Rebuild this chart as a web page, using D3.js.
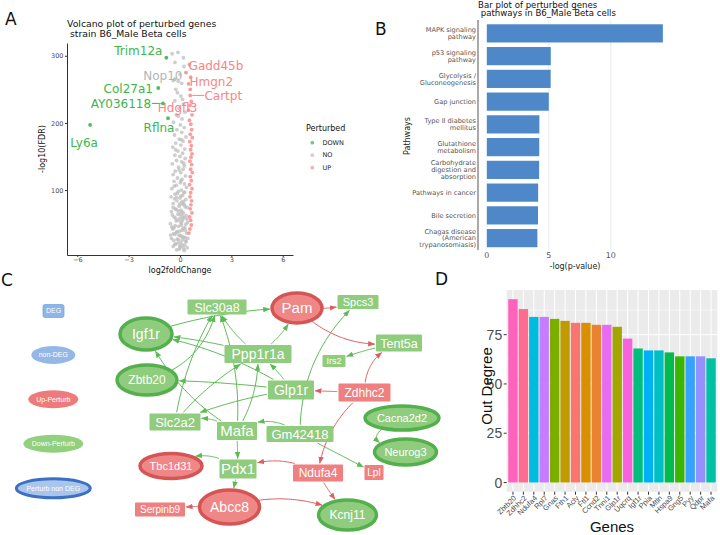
<!DOCTYPE html>
<html><head><meta charset="utf-8">
<script src="https://cdn.jsdelivr.net/npm/d3@7"></script>
<style>body{margin:0;background:#fff}svg{display:block}</style>
</head><body>
<svg id="c" width="720" height="535"></svg>
<script>
// ---------- Panel A: volcano data ----------
const volcanoTitle = ["Volcano plot of perturbed genes", " strain B6_Male Beta cells"];
const labelGenes = ["Trim12a","Nop10","Gadd45b","Hmgn2","Col27a1","Cartpt","AY036118","Hdgfl3","Rflna","Ly6a"];
const labelLfc   = [-0.8,-0.3,0.35,0.6,-1.27,0.6,-1.0,0.5,-0.7,-5.25];
const labelFdr   = [297,265,275,250,252,241,229,219,207,197];
const labelGroup = ["DOWN","NO","UP","UP","DOWN","UP","DOWN","UP","DOWN","DOWN"];
const grayLfc = [-0.46,-0.12,0.23,-0.4,-0.1,0.1,-0.15,0.05,-0.3,0.2,-0.05,0.3,-0.22,0.12,-0.38,0.02,0.25,-0.18,0.1,-0.32,0.35,-0.05,0.18,-0.25,0.05,-0.42,0.28,-0.12,0.15,-0.3,0.0,0.3,-0.2,0.1,-0.45,0.25,-0.08,0.18,-0.28,0.05,-0.4,0.32,-0.15,0.12,-0.35,0.02,0.26,-0.22,0.38,-0.48,0.08,-0.1,0.22,-0.3,0.15,-0.52,0.0,0.34,-0.18,0.1,-0.4,0.26,-0.05,0.42,-0.28,0.05,-0.5,0.2,-0.12,0.36,-0.35,0.0,0.16,-0.22,0.44,-0.56,0.08,-0.08,0.28,-0.42,0.12,-0.18,0.38,-0.3,0.02,0.22,-0.5,-0.1,0.32,0.05,-0.25,0.15,-0.4,0.42,-0.05,0.25,-0.15,0.05,-0.32,0.2,-0.02,0.3,-0.22,0.12,-0.45,0.24,-0.1,0.06,-0.28,0.18,-0.02,-0.38,0.1,-0.16,0.36,-0.3,0.0,0.2,-0.2,0.3,-0.48,0.4,-0.55,0.46,-0.36,0.28,-0.12,0.14,-0.06,0.34,-0.26,0.02,-0.4,0.16,-0.2,0.28,-0.34,0.06,-0.06,0.22,-0.26,0.08,-0.1,0.15,-0.25,0.0,-0.3,0.2,-0.1,0.1,-0.2,0.3,0.0,-0.35,0.15];
const grayFdr = [303,305,284,263,262,259,245,240,233,228,222,216,212,206,201,197,193,190,186,182,179,176,173,170,167,164,161,158,155,152,150,147,144,142,139,136,134,131,128,126,123,121,118,116,113,111,109,107,104,102,100,98,96,94,92,90,88,86,84,82,80,78,76,74,72,70,68,66,64,62,60,58,56,54,52,50,48,46,44,42,40,38,36,34,32,30,28,26,24,22,20,18,16,14,12,10,95,91,87,83,79,75,71,67,63,59,55,51,47,43,39,35,31,27,23,19,15,13,11,40,45,57,33,28,25,18,21,26,33,49,58,64,74,79,89,97,106,114,130,140,160,175,210,235,250,272,290,297,69,53,37,29,17,44,61,81,24,15,36];
const upLfc = [0.55,0.62,0.5,0.66,0.58,0.7,0.55,0.63,0.68,0.6,0.72,0.57,0.66,0.62,0.7,0.64,0.58,0.68,0.62,0.72,0.6,0.66,0.56,0.7,0.62,0.58,0.68,0.64,0.6,0.7,0.56,0.62,0.66,0.58,0.52];
const upFdr = [287,268,258,232,226,212,204,198,190,183,178,172,166,160,154,149,143,138,131,126,120,114,108,102,96,90,84,78,72,66,60,55,48,42,36];
const perturbLevels = ["DOWN","NO","UP"];
const xTicksA = [-6,-3,0,3,6];
const yTicksA = [100,200,300];

// ---------- Panel B: pathway bar data ----------
const barTitle = ["Bar plot of perturbed genes", " pathways in B6_Male Beta cells"];
const pathways = ["MAPK signaling\npathway","p53 signaling\npathway","Glycolysis /\nGluconeogenesis","Gap junction","Type II diabetes\nmellitus","Glutathione\nmetabolism","Carbohydrate\ndigestion and\nabsorption","Pathways in cancer","Bile secretion","Chagas disease\n(American\ntrypanosomiasis)"];
const pathwayScore = [14.2,5.16,5.15,5.0,4.24,4.23,4.22,4.14,4.13,4.08];
const xTicksB = [0,5,10];

// ---------- Panel C: network data ----------
const nodeNames = ["Slc30a8","Pam","Igf1r","Zbtb20","Ppp1r1a","Glp1r","Spcs3","Tent5a","Irs2","Zdhhc2","Slc2a2","Mafa","Gm42418","Tbc1d31","Pdx1","Abcc8","Serpinb9","Ndufa4","Lpl","Cacna2d2","Neurog3","Kcnj11"];
const nodeTypes = ["DEG-down","Perturb-up","Perturb-down","Perturb-down","DEG-down","DEG-down","DEG-down","DEG-down","DEG-down","DEG-up","DEG-down","DEG-down","DEG-down","Perturb-up","DEG-down","Perturb-up","DEG-up","DEG-up","DEG-up","Perturb-down","Perturb-down","Perturb-down"];
const edgeSource = ["Igf1r","Ppp1r1a","Zbtb20","Ppp1r1a","Mafa","Ppp1r1a","Mafa","Glp1r","Glp1r","Mafa","Gm42418","Tent5a","Glp1r","Mafa","Slc2a2","Gm42418","Gm42418","Mafa","Pdx1","Pdx1","Cacna2d2","Pam","Pam","Zdhhc2","Zdhhc2","Zdhhc2","Ndufa4","Ndufa4","Abcc8","Abcc8","Slc2a2","Glp1r"];
const edgeTarget = ["Pam","Pam","Slc30a8","Slc30a8","Slc30a8","Igf1r","Igf1r","Zbtb20","Ppp1r1a","Ppp1r1a","Spcs3","Irs2","Slc2a2","Slc2a2","Slc30a8","Mafa","Lpl","Pdx1","Tbc1d31","Abcc8","Neurog3","Spcs3","Tent5a","Glp1r","Tent5a","Ndufa4","Kcnj11","Pdx1","Serpinb9","Kcnj11","Ppp1r1a","Igf1r"];
const legendLabels = ["DEG","non-DEG","Up-Perturb","Down-Perturb","Perturb non DEG"];

// ---------- Panel D: out degree data ----------
const genesD = ["Zbtb20","Zdhhc2","Ndufa4","Rpl7","Gnas","Fth1","Acly","Ftl1","Ccnd2","Tnni1","Glp1r","Uqcrq","Igf1r","Ppia","Mtln","Hspa9","Gng5","Pyy","Qdpr","Mafa"];
const outDegree = [93,88,84,84,83,82,81,81,80,80,79,73,68,67,67,66,64,64,64,63];
const colorsD = ["#FF62BC","#FF6C91","#00BAE0","#C77CFF","#7CAE00","#C09B00","#F8766D","#D89000","#EA8331","#E76BF3","#A3A500","#FA62DB","#00BF7D","#00B0F6","#00BFC4","#00BB4E","#39B600","#35A2FF","#9590FF","#00C1A3"];
const yTicksD = [0,25,50,75];

// =====================================================
const svg = d3.select("#c");
const FD = "DejaVu Sans, sans-serif";
const FL = "Liberation Sans, Arial, sans-serif";

function letter(t,x,y){svg.append("text").attr("x",x).attr("y",y).attr("font-family",FD).attr("font-size",17).attr("fill","#111").text(t);}
letter("A",5,25); letter("B",375,35); letter("C",1,286); letter("D",435,285);

// ---------------- Panel A ----------------
(function(){
  const g = svg.append("g");
  const x = d3.scaleLinear([-6.6,6.6],[67,293]);
  const y = d3.scaleLinear([3.3,319],[255,43]);
  const tt = g.append("text").attr("font-family",FD).attr("font-size",9.3).attr("fill","#111");
  volcanoTitle.forEach((s,i)=>tt.append("tspan").attr("x",67).attr("y",27.3+i*9.5).attr("xml:space","preserve").text(s));
  const ax = g.append("g").attr("transform","translate(0,255)").call(d3.axisBottom(x).tickValues(xTicksA).tickSize(2).tickPadding(0.5).tickSizeOuter(0));
  const ay = g.append("g").attr("transform","translate(67,0)").call(d3.axisLeft(y).tickValues(yTicksA).tickSize(2).tickPadding(1.5).tickSizeOuter(0));
  [ax,ay].forEach(a=>{a.select(".domain").attr("stroke","#333");a.selectAll(".tick line").attr("stroke","#333");a.selectAll("text").attr("font-family",FD).attr("font-size",6.5).attr("fill","#4d4d4d");});
  g.append("text").attr("x",180).attr("y",272.5).attr("text-anchor","middle").attr("font-family",FD).attr("font-size",8).attr("fill","#111").text("log2foldChange");
  g.append("text").attr("transform","translate(45,149) rotate(-90)").attr("text-anchor","middle").attr("font-family",FD).attr("font-size",8).attr("fill","#111").text("-log10(FDR)");
  const col = {DOWN:"#3db54a",NO:"#bdbdbd",UP:"#f78d8d"};
  const lcol = {DOWN:"#3db54a",NO:"#b5b5b5",UP:"#f98585"};
  g.selectAll("c.g").data(d3.zip(grayLfc,grayFdr)).join("circle").attr("cx",d=>x(d[0])).attr("cy",d=>y(d[1])).attr("r",1.9).attr("fill",col.NO).attr("opacity",0.75);
  g.selectAll("c.u").data(d3.zip(upLfc,upFdr)).join("circle").attr("cx",d=>x(d[0])).attr("cy",d=>y(d[1])).attr("r",1.9).attr("fill",col.UP).attr("opacity",0.85);
  const pts = labelGenes.map((n,i)=>({n,lfc:labelLfc[i],fdr:labelFdr[i],grp:labelGroup[i]}));
  g.selectAll("c.l").data(pts).join("circle").attr("cx",d=>x(d.lfc)).attr("cy",d=>y(d.fdr)).attr("r",1.9).attr("fill",d=>col[d.grp]).attr("opacity",0.9);
  // label nudges (layout only)
  const nudge = {Trim12a:[-28,-7],Nop10:[-12,-3],Gadd45b:[30,-7],Hmgn2:[21,-8],Col27a1:[-30,1],Cartpt:[33,0],AY036118:[-42,0],Hdgfl3:[-11,-2],Rflna:[-9,10],Ly6a:[-6,18]};
  pts.forEach(d=>{
    const px=x(d.lfc), py=y(d.fdr), o=nudge[d.n];
    if(d.n==="Cartpt") g.append("line").attr("x1",px+2).attr("y1",py).attr("x2",px+14).attr("y2",py).attr("stroke",lcol.UP);
    if(d.n==="AY036118") g.append("line").attr("x1",px-11).attr("y1",py).attr("x2",px-2).attr("y2",py).attr("stroke",lcol.DOWN);
    g.append("text").attr("x",px+o[0]).attr("y",py+o[1]).attr("dy","0.35em").attr("text-anchor","middle").attr("font-family",FD).attr("font-size",12).attr("fill",lcol[d.grp]).text(d.n);
  });
  g.append("text").attr("x",306).attr("y",131).attr("font-family",FD).attr("font-size",8).attr("fill","#111").text("Perturbed");
  perturbLevels.forEach((lv,i)=>{
    g.append("circle").attr("cx",312.3).attr("cy",142.7+i*12.5).attr("r",1.9).attr("fill",col[lv]).attr("opacity",0.7);
    g.append("text").attr("x",322.5).attr("y",142.7+i*12.5).attr("dy","0.35em").attr("font-family",FD).attr("font-size",6.5).attr("fill","#222").text(lv);
  });
})();

// ---------------- Panel B ----------------
(function(){
  const g = svg.append("g");
  const x = d3.scaleLinear([-0.71,15.0],[478,672.8]);
  const y = d3.scaleBand(pathways,[22,249.5]).paddingInner(0.2).paddingOuter(0.1);
  const tt = g.append("text").attr("font-family",FD).attr("font-size",8.6).attr("fill","#111");
  barTitle.forEach((s,i)=>tt.append("tspan").attr("x",478).attr("y",7.5+i*8.6).attr("xml:space","preserve").text(s));
  g.selectAll("line.gr").data(xTicksB.slice(1)).join("line").attr("x1",d=>x(d)).attr("x2",d=>x(d)).attr("y1",20).attr("y2",250).attr("stroke","#e6ebf3").attr("stroke-width",1);
  g.selectAll("rect").data(pathways).join("rect").attr("x",x(0)).attr("y",d=>y(d)).attr("width",(d,i)=>x(pathwayScore[i])-x(0)).attr("height",y.bandwidth()).attr("fill","#4f88c9");
  g.append("line").attr("x1",478).attr("x2",478).attr("y1",20).attr("y2",250).attr("stroke","#555").attr("stroke-width",1);
  g.selectAll("text.xt").data(xTicksB).join("text").attr("x",d=>x(d)).attr("y",255).attr("dy","0.35em").attr("text-anchor","middle").attr("font-family",FD).attr("font-size",7.9).attr("fill","#555").text(d=>d);
  pathways.forEach(p=>{
    const lines=p.split("\n"); const cy=y(p)+y.bandwidth()/2;
    const t=g.append("text").attr("text-anchor","end").attr("font-family",FD).attr("font-size",6.6).attr("fill","#555");
    lines.forEach((l,i)=>t.append("tspan").attr("x",476).attr("y",cy+(i-(lines.length-1)/2)*6.8).attr("dy","0.35em").text(l));
  });
  g.append("text").attr("x",575).attr("y",268.5).attr("text-anchor","middle").attr("font-family",FD).attr("font-size",8).attr("fill","#222").text("-log(p-value)");
  g.append("text").attr("transform","translate(410,136) rotate(-90)").attr("text-anchor","middle").attr("font-family",FD).attr("font-size",8).attr("fill","#222").text("Pathways");
})();

// ---------------- Panel C ----------------
(function(){
  const g = svg.append("g");
  // layout: [cx, cy, w or rx, h or ry, font size]
  const layout = {
    Slc30a8:[217,307,59,15,12.5], Pam:[297,308,25,15,15], Igf1r:[146,334,26,16,14], Zbtb20:[147,380,30,15,12],
    Ppp1r1a:[258,354,67,18,14], Glp1r:[291,390,46,19,14], Spcs3:[358,302,41,14,11], Tent5a:[399,343,46,17,12.5],
    Irs2:[334,361,23,12,9], Zdhhc2:[364.5,392.5,52,18,12], Slc2a2:[175,422,51,17,13], Mafa:[237,431,40,18,15],
    Gm42418:[300,434,67,16,13], Tbc1d31:[171,466,31,12.5,11], Pdx1:[238,469,37,19,15], Abcc8:[229.5,507,30,17,14],
    Serpinb9:[160,509.5,50,14,10], Ndufa4:[318,473,50,17,12], Lpl:[374,472.5,19,15,10], Cacna2d2:[402,418,37,12,11],
    Neurog3:[405.5,452,31,13,11], Kcnj11:[347.5,515,29,15,12]
  };
  const fills = {"DEG-down":"#8fcc7d","DEG-up":"#f07f7f","Perturb-down":"#8fcc7d","Perturb-up":"#f08787"};
  const strokes = {"Perturb-down":"#54b04c","Perturb-up":"#d55555"};
  const nodes = nodeNames.map((n,i)=>{const l=layout[n];return {n,type:nodeTypes[i],shape:nodeTypes[i].startsWith("DEG")?"rect":"ell",x:l[0],y:l[1],w:l[2],h:l[3],fs:l[4]};});
  const byName = Object.fromEntries(nodes.map(d=>[d.n,d]));
  const defs = svg.append("defs");
  [["g","#5cba55"],["r","#de5e5e"]].forEach(([id,c])=>{
    defs.append("marker").attr("id","arr"+id).attr("viewBox","0 0 7 6").attr("refX",6.5).attr("refY",3).attr("markerWidth",7).attr("markerHeight",6).attr("markerUnits","userSpaceOnUse").attr("orient","auto").append("path").attr("d","M0,0.3L7,3L0,5.7Z").attr("fill",c);
  });
  // edge curvature (layout only)
  const curv = {"Igf1r-Pam":-0.08,"Ppp1r1a-Pam":0.15,"Zbtb20-Slc30a8":0.3,"Ppp1r1a-Slc30a8":-0.12,"Mafa-Slc30a8":0.12,"Ppp1r1a-Igf1r":0.05,"Mafa-Igf1r":-0.15,
    "Glp1r-Zbtb20":0.03,"Glp1r-Ppp1r1a":0.1,"Mafa-Ppp1r1a":0.15,"Gm42418-Spcs3":-0.22,"Tent5a-Irs2":0.05,"Glp1r-Slc2a2":0.06,"Mafa-Slc2a2":0.25,
    "Slc2a2-Slc30a8":-0.1,"Gm42418-Mafa":0.35,"Gm42418-Lpl":0,"Mafa-Pdx1":0,"Pdx1-Tbc1d31":0.35,"Pdx1-Abcc8":0,"Cacna2d2-Neurog3":1.6,
    "Pam-Spcs3":0.1,"Pam-Tent5a":0.25,"Zdhhc2-Glp1r":0,"Zdhhc2-Tent5a":-0.35,"Zdhhc2-Ndufa4":0.2,"Ndufa4-Kcnj11":0.05,"Ndufa4-Pdx1":0.25,
    "Abcc8-Serpinb9":0.05,"Abcc8-Kcnj11":-0.2,"Slc2a2-Ppp1r1a":-0.1,"Glp1r-Igf1r":0.1};
  function inside(n,p,pad){const dx=p[0]-n.x,dy=p[1]-n.y;if(n.shape==="rect")return Math.abs(dx)<=n.w/2+pad&&Math.abs(dy)<=n.h/2+pad;const a=n.w+pad,b=n.h+pad;return dx*dx/(a*a)+dy*dy/(b*b)<=1;}
  function bz(p0,c,p2,t){const u=1-t;return [u*u*p0[0]+2*u*t*c[0]+t*t*p2[0],u*u*p0[1]+2*u*t*c[1]+t*t*p2[1]];}
  const line = d3.line();
  edgeSource.forEach((s,i)=>{
    const S=byName[s],T=byName[edgeTarget[i]];
    const p0=[S.x,S.y],p2=[T.x,T.y];const dx=p2[0]-p0[0],dy=p2[1]-p0[1];const L=Math.hypot(dx,dy);
    const k=curv[s+"-"+T.n]||0;const c=[(p0[0]+p2[0])/2-dy/L*k*L,(p0[1]+p2[1])/2+dx/L*k*L];
    const N=300;let t0=0,t1=1;
    for(let j=0;j<=N;j++){if(!inside(S,bz(p0,c,p2,j/N),1)){t0=j/N;break;}}
    for(let j=N;j>=0;j--){if(!inside(T,bz(p0,c,p2,j/N),T.shape==="rect"?1:2)){t1=j/N;break;}}
    const pts=d3.range(31).map(j=>bz(p0,c,p2,t0+(t1-t0)*j/30));
    const red=S.type.endsWith("up");
    g.append("path").attr("d",line(pts)).attr("fill","none").attr("stroke",red?"#de5e5e":"#5cba55").attr("stroke-width",1).attr("marker-end",`url(#arr${red?"r":"g"})`);
  });
  nodes.forEach(d=>{
    if(d.shape==="rect") g.append("rect").attr("x",d.x-d.w/2).attr("y",d.y-d.h/2).attr("width",d.w).attr("height",d.h).attr("rx",1).attr("fill",fills[d.type]);
    else g.append("ellipse").attr("cx",d.x).attr("cy",d.y).attr("rx",d.w).attr("ry",d.h).attr("fill",fills[d.type]).attr("stroke",strokes[d.type]).attr("stroke-width",3.5);
    g.append("text").attr("x",d.x).attr("y",d.y).attr("dy","0.36em").attr("text-anchor","middle").attr("font-family",FL).attr("font-size",d.fs).attr("fill","#fff").text(d.n);
  });
  // legend
  const lg = [
    {shape:"rect",x:53.5,y:311,w:21,h:13,fill:"#8fb5e6",stroke:"#7aa6de",sw:0.8},
    {shape:"ell",x:53.3,y:355,w:22,h:9,fill:"#94b8e6"},
    {shape:"ell",x:53.3,y:399.3,w:25,h:9,fill:"#ee7b7b"},
    {shape:"ell",x:53.3,y:443.7,w:30,h:9,fill:"#92cf7e"},
    {shape:"ell",x:53.3,y:488.3,w:37,h:9.5,fill:"#a9c5ec",stroke:"#3c70c3",sw:3}
  ];
  lg.forEach((d,i)=>{
    if(d.shape==="rect") g.append("rect").attr("x",d.x-d.w/2).attr("y",d.y-d.h/2).attr("width",d.w).attr("height",d.h).attr("rx",2).attr("fill",d.fill).attr("stroke",d.stroke).attr("stroke-width",d.sw);
    else g.append("ellipse").attr("cx",d.x).attr("cy",d.y).attr("rx",d.w).attr("ry",d.h).attr("fill",d.fill).attr("stroke",d.stroke||"none").attr("stroke-width",d.sw||0);
    g.append("text").attr("x",d.x).attr("y",d.y).attr("dy","0.35em").attr("text-anchor","middle").attr("font-family",FL).attr("font-size",7).attr("fill","#fff").text(legendLabels[i]);
  });
})();

// ---------------- Panel D ----------------
(function(){
  const g = svg.append("g");
  const L=506.7,R=717.3,T=290,B=491.7;
  const x = d3.scaleBand(genesD,[L,R]).paddingInner(0.1).paddingOuter(0.15);
  const y = d3.scaleLinear([-4.65,97.65],[B,T]);
  g.append("rect").attr("x",L).attr("y",T).attr("width",R-L).attr("height",B-T).attr("fill","#ebebeb");
  g.selectAll("line.mn").data([12.5,37.5,62.5,87.5]).join("line").attr("x1",L).attr("x2",R).attr("y1",d=>y(d)).attr("y2",d=>y(d)).attr("stroke","#fff").attr("stroke-width",0.5);
  g.selectAll("line.mj").data(yTicksD).join("line").attr("x1",L).attr("x2",R).attr("y1",d=>y(d)).attr("y2",d=>y(d)).attr("stroke","#fff").attr("stroke-width",1);
  g.selectAll("line.vx").data(genesD).join("line").attr("x1",d=>x(d)+x.bandwidth()/2).attr("x2",d=>x(d)+x.bandwidth()/2).attr("y1",T).attr("y2",B).attr("stroke","#fff").attr("stroke-width",1);
  g.selectAll("rect.b").data(genesD).join("rect").attr("x",d=>x(d)).attr("width",x.bandwidth()).attr("y",(d,i)=>y(outDegree[i])).attr("height",(d,i)=>y(0)-y(outDegree[i])).attr("fill",(d,i)=>colorsD[i]);
  yTicksD.forEach(v=>{
    g.append("line").attr("x1",L-3).attr("x2",L).attr("y1",y(v)).attr("y2",y(v)).attr("stroke","#333");
    g.append("text").attr("x",L-4.5).attr("y",y(v)).attr("dy","0.36em").attr("text-anchor","end").attr("font-family",FL).attr("font-size",14).attr("fill","#4d4d4d").text(v);
  });
  genesD.forEach(d=>{
    const cx=x(d)+x.bandwidth()/2;
    g.append("line").attr("x1",cx).attr("x2",cx).attr("y1",B).attr("y2",B+3).attr("stroke","#333");
    g.append("text").attr("transform",`translate(${cx+2},${B+5}) rotate(-45)`).attr("text-anchor","end").attr("dy","0.35em").attr("font-family",FL).attr("font-size",7.5).attr("fill","#4d4d4d").text(d);
  });
  g.append("text").attr("x",612).attr("y",532).attr("text-anchor","middle").attr("font-family",FL).attr("font-size",15).attr("fill","#111").text("Genes");
  g.append("text").attr("transform","translate(492,386) rotate(-90)").attr("text-anchor","middle").attr("font-family",FL).attr("font-size",15).attr("fill","#111").text("Out Degree");
})();
</script>
</body></html>
